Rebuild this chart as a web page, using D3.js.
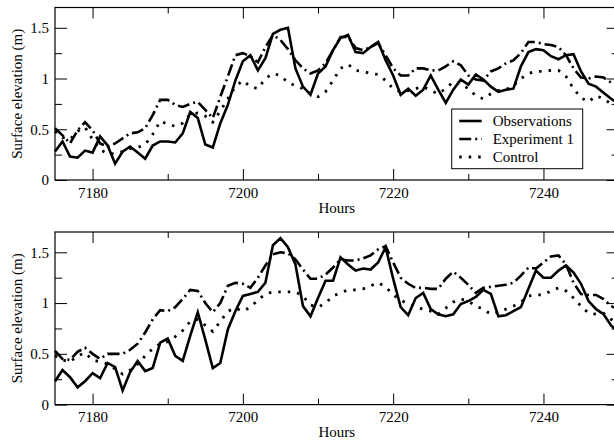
<!DOCTYPE html>
<html>
<head>
<meta charset="utf-8">
<script src="https://cdn.jsdelivr.net/npm/d3@7"></script>
<style>
  body { margin: 0; background: #fff; }
  svg, svg text { font-family: "Liberation Serif", "Times New Roman", Times, "DejaVu Serif", serif; }
</style>
</head>
<body>
<svg id="chart" width="614" height="440"></svg>
<script>

// hourly samples, 7175 .. 7250
const hours = [
  7175, 7176, 7177, 7178, 7179, 7180, 7181, 7182, 7183, 7184,
  7185, 7186, 7187, 7188, 7189, 7190, 7191, 7192, 7193, 7194,
  7195, 7196, 7197, 7198, 7199, 7200, 7201, 7202, 7203, 7204,
  7205, 7206, 7207, 7208, 7209, 7210, 7211, 7212, 7213, 7214,
  7215, 7216, 7217, 7218, 7219, 7220, 7221, 7222, 7223, 7224,
  7225, 7226, 7227, 7228, 7229, 7230, 7231, 7232, 7233, 7234,
  7235, 7236, 7237, 7238, 7239, 7240, 7241, 7242, 7243, 7244,
  7245, 7246, 7247, 7248, 7249, 7250
];

// top panel
const obsTop = [
  0.28, 0.38, 0.23, 0.22, 0.29, 0.27, 0.43, 0.34, 0.16, 0.28,
  0.33, 0.27, 0.21, 0.34, 0.38, 0.38, 0.37, 0.46, 0.67, 0.61,
  0.35, 0.32, 0.56, 0.74, 0.98, 1.17, 1.23, 1.08, 1.20, 1.44,
  1.48, 1.50, 1.10, 0.92, 0.84, 1.05, 1.12, 1.28, 1.40, 1.43,
  1.26, 1.25, 1.31, 1.36, 1.18, 1.03, 0.84, 0.90, 0.83, 0.89,
  1.03, 0.89, 0.76, 0.89, 0.99, 0.94, 1.04, 0.99, 0.92, 0.87,
  0.89, 0.90, 1.12, 1.26, 1.29, 1.28, 1.22, 1.19, 1.23, 1.24,
  1.07, 0.95, 0.92, 0.86, 0.80, 0.75
];
const expTop = [
  0.51, 0.44, 0.36, 0.49, 0.57, 0.49, 0.36, 0.33, 0.36, 0.41,
  0.46, 0.47, 0.51, 0.64, 0.79, 0.79, 0.74, 0.72, 0.75, 0.77,
  0.69, 0.61, 0.82, 1.02, 1.23, 1.25, 1.22, 1.16, 1.31, 1.43,
  1.38, 1.29, 1.18, 1.10, 1.05, 1.08, 1.15, 1.28, 1.41, 1.41,
  1.30, 1.28, 1.31, 1.35, 1.23, 1.10, 1.03, 1.03, 1.10, 1.10,
  1.08, 1.08, 1.12, 1.17, 1.13, 1.03, 0.99, 0.98, 1.07, 1.10,
  1.15, 1.18, 1.25, 1.36, 1.36, 1.34, 1.33, 1.31, 1.23, 1.10,
  1.01, 1.00, 1.02, 1.01, 0.96, 0.95
];
const ctlTop = [
  0.48, 0.42, 0.40, 0.48, 0.52, 0.40, 0.30, 0.26, 0.26, 0.28,
  0.31, 0.32, 0.35, 0.45, 0.58, 0.55, 0.53, 0.56, 0.65, 0.66,
  0.63, 0.57, 0.68, 0.80, 0.92, 0.98, 0.92, 0.90, 1.00, 1.05,
  1.03, 0.96, 0.93, 0.90, 0.85, 0.82, 0.87, 0.98, 1.10, 1.14,
  1.08, 1.07, 1.05, 1.04, 0.98, 0.90, 0.87, 0.88, 0.90, 0.92,
  0.88, 0.85, 0.90, 0.97, 0.95, 0.90, 0.83, 0.80, 0.85, 0.88,
  0.89, 0.93, 1.00, 1.05, 1.07, 1.07, 1.08, 1.08, 1.02, 0.90,
  0.81, 0.77, 0.83, 0.80, 0.75, 0.72
];

// bottom panel
const obsBottom = [
  0.23, 0.34, 0.27, 0.17, 0.23, 0.31, 0.26, 0.41, 0.37, 0.14,
  0.32, 0.43, 0.33, 0.36, 0.61, 0.65, 0.48, 0.43, 0.68, 0.91,
  0.64, 0.36, 0.41, 0.74, 0.92, 1.07, 1.09, 1.11, 1.20, 1.57,
  1.64, 1.55, 1.38, 0.97, 0.87, 1.05, 1.22, 1.22, 1.45, 1.38,
  1.32, 1.34, 1.33, 1.40, 1.55, 1.24, 0.96, 0.88, 1.05, 1.10,
  0.94, 0.89, 0.87, 0.89, 0.99, 1.02, 1.06, 1.13, 1.09, 0.87,
  0.88, 0.92, 0.96, 1.14, 1.32, 1.25, 1.25, 1.32, 1.37, 1.30,
  1.19, 1.02, 0.94, 0.89, 0.78, 0.71
];
const expBottom = [
  0.53, 0.45, 0.44, 0.52, 0.56, 0.50, 0.45, 0.50, 0.50, 0.50,
  0.54, 0.60, 0.71, 0.84, 0.93, 0.92, 0.96, 1.04, 1.13, 1.12,
  1.00, 0.91, 1.00, 1.17, 1.20, 1.19, 1.15, 1.25, 1.37, 1.48,
  1.50, 1.49, 1.43, 1.33, 1.24, 1.24, 1.28, 1.35, 1.43, 1.42,
  1.42, 1.44, 1.47, 1.53, 1.56, 1.40, 1.25, 1.19, 1.15, 1.15,
  1.14, 1.14, 1.24, 1.31, 1.25, 1.18, 1.10, 1.15, 1.16, 1.17,
  1.18, 1.20, 1.27, 1.35, 1.34, 1.40, 1.46, 1.47, 1.38, 1.20,
  1.09, 1.08, 1.08, 1.04, 0.97, 0.94
];
const ctlBottom = [
  0.48, 0.44, 0.42, 0.48, 0.51, 0.44, 0.42, 0.40, 0.35, 0.30,
  0.34, 0.40, 0.48, 0.55, 0.60, 0.62, 0.67, 0.73, 0.82, 0.84,
  0.78, 0.72, 0.82, 0.92, 0.95, 0.92, 0.96, 1.03, 1.09, 1.11,
  1.11, 1.11, 1.11, 1.07, 0.98, 0.96, 1.00, 1.07, 1.10, 1.13,
  1.13, 1.14, 1.17, 1.20, 1.16, 1.08, 1.03, 0.99, 0.96, 0.94,
  0.92, 0.89, 0.95, 1.01, 1.04, 1.02, 0.97, 0.94, 0.89, 0.91,
  0.94, 0.97, 1.01, 1.07, 1.08, 1.08, 1.12, 1.15, 1.12, 1.05,
  0.97, 0.90, 0.89, 0.90, 0.84, 0.80
];

const xMajorTicks = [7180, 7200, 7220, 7240];
const xMinorTicks = [7190, 7210, 7230, 7250];
const yMajorTicks = [0, 0.5, 1, 1.5];
const yMinorTicks = [0.25, 0.75, 1.25];
const yLabels = ["0", "0.5", "1", "1.5"];
const seriesNames = ["Observations", "Experiment 1", "Control"];

const FONT = "'Liberation Serif', 'Times New Roman', Times, serif";

const lineStyles = [
  { width: 2.6, dash: null },
  { width: 2.6, dash: "12,4,2,4" },
  { width: 2.8, dash: "2.5,7" }
];

const svg = d3.select("#chart");

const x = d3.scaleLinear()
    .domain([7175, 7250])
    .range([55, 618.6]);


const drawAxes = (g, y, top, bottom) => {
  const left = x.range()[0], right = x.range()[1];

  const fmtY = (d) => yLabels[yMajorTicks.indexOf(d)];

  // bottom, with labels
  g.append("g")
      .attr("transform", `translate(0,${bottom})`)
      .call(d3.axisBottom(x).tickValues(xMajorTicks).tickSize(-11).tickPadding(7).tickFormat(d3.format("d")));
  g.append("g")
      .attr("transform", `translate(0,${bottom})`)
      .call(d3.axisBottom(x).tickValues(xMinorTicks).tickSize(-6).tickFormat(""));

  // top, ticks only
  g.append("g")
      .attr("transform", `translate(0,${top})`)
      .call(d3.axisTop(x).tickValues(xMajorTicks).tickSize(-11).tickFormat(""));
  g.append("g")
      .attr("transform", `translate(0,${top})`)
      .call(d3.axisTop(x).tickValues(xMinorTicks).tickSize(-6).tickFormat(""));

  // left, with labels
  g.append("g")
      .attr("transform", `translate(${left},0)`)
      .call(d3.axisLeft(y).tickValues(yMajorTicks).tickSize(-12).tickPadding(6).tickFormat(fmtY));
  g.append("g")
      .attr("transform", `translate(${left},0)`)
      .call(d3.axisLeft(y).tickValues(yMinorTicks).tickSize(-7).tickFormat(""));

  // right, ticks only
  g.append("g")
      .attr("transform", `translate(${right},0)`)
      .call(d3.axisRight(y).tickValues(yMajorTicks).tickSize(-12).tickFormat(""));
  g.append("g")
      .attr("transform", `translate(${right},0)`)
      .call(d3.axisRight(y).tickValues(yMinorTicks).tickSize(-7).tickFormat(""));

  g.selectAll(".domain").remove();
  g.selectAll("g").attr("font-family", FONT).attr("font-size", 15);
  g.selectAll(".tick line").attr("stroke", "#000").attr("stroke-width", 1);
  g.selectAll(".tick text").attr("fill", "#000");

  g.append("rect")
      .attr("x", left)
      .attr("y", top)
      .attr("width", right - left)
      .attr("height", bottom - top)
      .attr("fill", "none")
      .attr("stroke", "#000")
      .attr("stroke-width", 1.2);

  // axis titles
  g.append("text")
      .attr("x", (left + right) / 2)
      .attr("y", bottom + 32.5)
      .attr("text-anchor", "middle")
      .attr("font-family", FONT)
      .attr("font-size", 15)
      .text("Hours");

  g.append("text")
      .attr("transform", `translate(22,${(top + bottom) / 2}) rotate(-90)`)
      .attr("text-anchor", "middle")
      .attr("font-family", FONT)
      .attr("font-size", 15)
      .text("Surface elevation (m)");
}


const drawSeries = (g, y, series) => {
  const line = d3.line()
      .x((d, i) => x(hours[i]))
      .y((d) => y(d));

  g.selectAll("path.series")
      .data(series)
      .enter()
      .append("path")
        .attr("class", "series")
        .attr("d", (d) => line(d))
        .attr("fill", "none")
        .attr("stroke", "#000")
        .attr("stroke-width", (d, i) => lineStyles[i].width)
        .attr("stroke-dasharray", (d, i) => lineStyles[i].dash);
}


const drawLegend = (g) => {
  const bx = 451.7, by = 109;
  g.append("rect")
      .attr("x", bx)
      .attr("y", by)
      .attr("width", 131)
      .attr("height", 59.7)
      .attr("fill", "#fff")
      .attr("stroke", "#000")
      .attr("stroke-width", 1);

  const rows = g.selectAll("g.legendRow")
      .data(seriesNames)
      .enter()
      .append("g")
        .attr("class", "legendRow")
        .attr("transform", (d, i) => `translate(${bx},${by + 16.5 + i * 18})`);

  rows.append("line")
      .attr("x1", 7.5)
      .attr("x2", 30)
      .attr("y1", -4.5)
      .attr("y2", -4.5)
      .attr("stroke", "#000")
      .attr("stroke-width", (d, i) => lineStyles[i].width)
      .attr("stroke-dasharray", (d, i) => lineStyles[i].dash);

  rows.append("text")
      .attr("x", 41)
      .attr("y", 0)
      .attr("font-family", FONT)
      .attr("font-size", 15)
      .text((d) => d);
}


const panels = [
  { top: 7.5, bottom: 180, series: [obsTop, expTop, ctlTop], legend: true },
  { top: 232, bottom: 404.6, series: [obsBottom, expBottom, ctlBottom], legend: false }
];

panels.forEach((p) => {
  const y = d3.scaleLinear()
      .domain([0, 1.7])
      .range([p.bottom, p.top]);

  const g = svg.append("g");
  drawSeries(g, y, p.series);
  drawAxes(g, y, p.top, p.bottom);
  if (p.legend) drawLegend(g);
});

</script>
</body>
</html>
